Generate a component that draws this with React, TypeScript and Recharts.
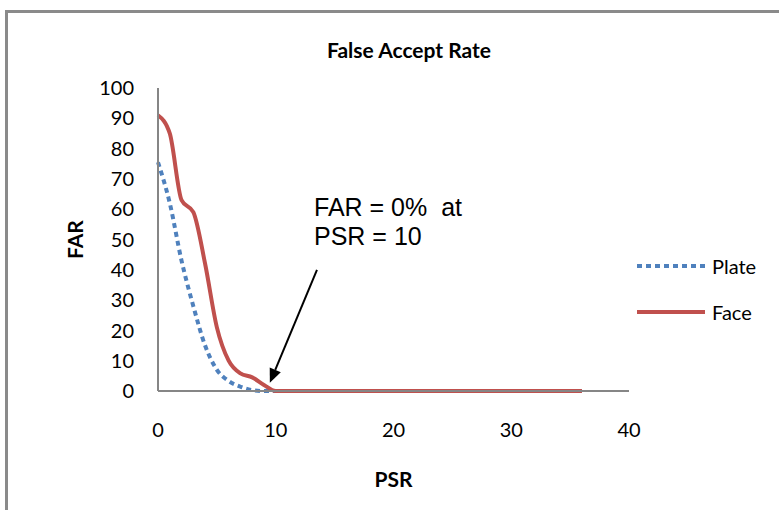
import { LineChart, Line, XAxis, YAxis, Legend, ReferenceLine } from 'recharts';

// PSR values (x) and FAR (%) for each matcher
const psr = [0, 1, 2, 3, 4, 5, 6, 7, 8, 9, 10, 11, 12, 13, 14, 15, 16, 17, 18, 19, 20, 21, 22, 23, 24, 25, 26, 27, 28, 29, 30, 31, 32, 33, 34, 35, 36];
const plate = [75.5, 62, 43, 28, 15, 7, 3.3, 1.4, 0.3, 0, 0, 0, 0, 0, 0, 0, 0, 0, 0, 0, 0, 0, 0, 0, 0, 0, 0, 0, 0, 0, 0, 0, 0, 0, 0, 0, 0];
const face = [91, 85, 63, 59, 42, 21, 10, 5.8, 4.5, 2, 0, 0, 0, 0, 0, 0, 0, 0, 0, 0, 0, 0, 0, 0, 0, 0, 0, 0, 0, 0, 0, 0, 0, 0, 0, 0, 0];

const xTicks = [0, 10, 20, 30, 40];
const yTicks = [0, 10, 20, 30, 40, 50, 60, 70, 80, 90, 100];
const legendOrder = ['plate', 'face'];

const data = psr.map((p, i) => ({ psr: p, plate: plate[i], face: face[i] }));

const AXIS = '#868686';
const FONT = 'Lato, "Open Sans", sans-serif';

function Arrow(props: any) {
  const { x1, y1, x2, y2 } = props;
  const ang = Math.atan2(y2 - y1, x2 - x1);
  const len = 14;
  const w = 6;
  const bx = x2 - len * Math.cos(ang);
  const by = y2 - len * Math.sin(ang);
  const px = -Math.sin(ang) * w;
  const py = Math.cos(ang) * w;
  return (
    <g>
      <line x1={x1} y1={y1} x2={bx} y2={by} stroke="#000" strokeWidth={2} />
      <polygon points={`${x2},${y2} ${bx + px},${by + py} ${bx - px},${by - py}`} fill="#000" />
    </g>
  );
}

function LegendContent(props: any) {
  const items = [...(props.payload || [])].sort(
    (a: any, b: any) => legendOrder.indexOf(a.dataKey) - legendOrder.indexOf(b.dataKey)
  );
  return (
    <div>
      {items.map((item: any, i: number) => (
        <div key={i} style={{ display: 'flex', alignItems: 'center', height: 46 }}>
          <svg width={70} height={10}>
            <line
              x1={1}
              y1={5}
              x2={69}
              y2={5}
              stroke={item.color}
              strokeWidth={4}
              strokeDasharray={item.payload?.strokeDasharray}
            />
          </svg>
          <span style={{ marginLeft: 6, fontFamily: FONT, fontSize: 20, color: '#000' }}>{item.value}</span>
        </div>
      ))}
    </div>
  );
}

export default function App() {
  return (
    <div style={{ position: 'absolute', left: 0, top: 0, width: 779, height: 510, background: '#fff', overflow: 'hidden' }}>
      <div
        style={{
          position: 'absolute',
          left: 5,
          top: 10,
          width: 800,
          height: 520,
          borderLeft: '3px solid #8a8a8a',
          borderTop: '3px solid #8a8a8a',
        }}
      />
      <div
        style={{
          position: 'absolute',
          left: 409,
          top: 37,
          transform: 'translateX(-50%)',
          fontFamily: FONT,
          fontWeight: 700,
          fontSize: 21,
          whiteSpace: 'nowrap',
        }}
      >
        False Accept Rate
      </div>
      <div
        style={{
          position: 'absolute',
          left: 314,
          top: 193,
          fontFamily: '"Liberation Sans", Arial, sans-serif',
          fontSize: 25,
          lineHeight: '29px',
          whiteSpace: 'pre',
        }}
      >
        {'FAR = 0%  at\nPSR = 10'}
      </div>
      <LineChart width={779} height={510} data={data} margin={{ top: 88, right: 150, bottom: 19, left: 0 }}>
        <XAxis
          dataKey="psr"
          type="number"
          domain={[0, 40]}
          ticks={xTicks}
          interval={0}
          height={100}
          tickLine={false}
          tickMargin={26}
          axisLine={{ stroke: AXIS, strokeWidth: 2 }}
          tick={{ fill: '#000', fontSize: 20, fontFamily: FONT }}
          label={{ value: 'PSR', position: 'insideBottom', offset: 4, fill: '#000', fontSize: 21, fontWeight: 700, fontFamily: FONT }}
        />
        <YAxis
          type="number"
          domain={[0, 100]}
          ticks={yTicks}
          interval={0}
          width={158}
          tickLine={false}
          tickMargin={18}
          axisLine={{ stroke: AXIS, strokeWidth: 2 }}
          tick={{ fill: '#000', fontSize: 20, fontFamily: FONT }}
          label={{ value: 'FAR', angle: -90, position: 'center', dx: -3, fill: '#000', fontSize: 21, fontWeight: 700, fontFamily: FONT }}
        />
        <Line
          type="monotone"
          dataKey="plate"
          name="Plate"
          stroke="#4F81BD"
          strokeWidth={4}
          strokeDasharray="5 4"
          dot={false}
          isAnimationActive={false}
        />
        <Line
          type="monotone"
          dataKey="face"
          name="Face"
          stroke="#C0504D"
          strokeWidth={4}
          dot={false}
          isAnimationActive={false}
        />
        <ReferenceLine
          segment={[
            { x: 13.5, y: 40 },
            { x: 9.5, y: 2.7 },
          ]}
          shape={Arrow}
        />
        <Legend
          layout="vertical"
          align="center"
          verticalAlign="middle"
          content={LegendContent}
          wrapperStyle={{ position: 'absolute', left: 636, top: 243, width: 140 }}
        />
      </LineChart>
    </div>
  );
}
